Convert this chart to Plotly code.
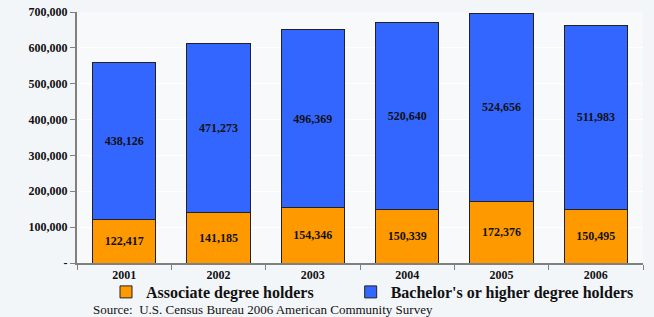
import plotly.graph_objects as go

years = ["2001", "2002", "2003", "2004", "2005", "2006"]
associate = [122417, 141185, 154346, 150339, 172376, 150495]
bachelor = [438126, 471273, 496369, 520640, 524656, 511983]
ytick_vals = [0, 100000, 200000, 300000, 400000, 500000, 600000, 700000]
ytick_text = ["-", "100,000", "200,000", "300,000", "400,000", "500,000", "600,000", "700,000"]

serif = "Liberation Serif, Times New Roman, serif"
lbl_font = dict(family=serif, size=12, color="#111111")

fig = go.Figure()
fig.add_trace(go.Bar(
    x=years, y=associate, name="<b>Associate degree holders</b>" + "\u00a0" * 8,
    marker=dict(color="#FF9900", line=dict(color="#222222", width=1)),
    text=[f"<b>{v:,}</b>" for v in associate], textposition="inside",
    insidetextanchor="middle", textfont=lbl_font, textangle=0,
))
fig.add_trace(go.Bar(
    x=years, y=bachelor, name="<b>Bachelor's or higher degree holders</b>",
    marker=dict(color="#3366FF", line=dict(color="#222222", width=1)),
    text=[f"<b>{v:,}</b>" for v in bachelor], textposition="inside",
    insidetextanchor="middle", textfont=lbl_font, textangle=0,
))

fig.update_layout(
    barmode="stack", bargap=0.33,
    width=654, height=317,
    margin=dict(l=77, r=11, t=12, b=54, autoexpand=False),
    paper_bgcolor="#f3f6f9", plot_bgcolor="#f7f9fb",
    font=dict(family=serif, color="#111111"),
    legend=dict(
        orientation="h", x=106 / 654, xref="container", xanchor="left",
        y=1 - 292 / 317, yref="container", yanchor="middle",
        font=dict(family=serif, size=16, color="#111111"),
        bgcolor="rgba(0,0,0,0)", traceorder="normal",
        itemwidth=30, tracegroupgap=0,
    ),
    showlegend=True,
)
fig.update_xaxes(
    showline=True, linecolor="#808080", linewidth=2,
    ticks="outside", tickson="boundaries", ticklen=5, tickcolor="#808080", tickwidth=1,
    tickfont=dict(family=serif, size=12, color="#111111"),
    ticktext=[f"<b>{y}</b>" for y in years], tickvals=years,
    automargin=False,
)
fig.update_yaxes(
    range=[0, 700000], tickvals=ytick_vals,
    ticktext=[f"<b>{t}</b>" for t in ytick_text],
    showline=True, linecolor="#808080", linewidth=2,
    ticks="outside", ticklen=5, tickcolor="#808080", tickwidth=1,
    showgrid=True, gridcolor="#ffffff", gridwidth=1,
    tickfont=dict(family=serif, size=12, color="#111111"),
    zeroline=False, automargin=False,
)
fig.add_annotation(
    text="Source:  U.S. Census Bureau 2006 American Community Survey",
    xref="paper", yref="paper", x=(263 - 77) / 566, y=-46 / 251,
    xanchor="center", yanchor="middle", showarrow=False,
    font=dict(family=serif, size=13, color="#111111"),
)
fig.write_html("out.html", config={"displayModeBar": False},
               post_script="document.body.style.margin='0';")
